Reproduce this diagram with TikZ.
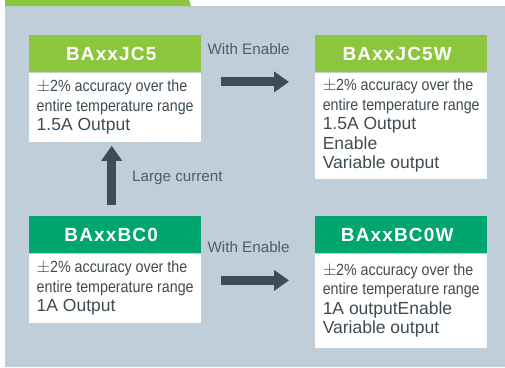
\documentclass[tikz,border=0pt]{standalone}
\usepackage{fontspec}
\setmainfont{Liberation Sans}
\newfontfamily\narrowsans[FakeStretch=0.88]{Liberation Sans}
\newfontfamily\headsans[LetterSpace=6]{Liberation Sans}
\usetikzlibrary{positioning,arrows.meta}

\definecolor{leafgreen}{HTML}{8CC63F}
\definecolor{deepgreen}{HTML}{00A570}
\definecolor{panelgrey}{HTML}{BFCED8}
\definecolor{arrowgrey}{HTML}{3D4C55}
\definecolor{textgrey}{HTML}{3F4B53}
\definecolor{labelgrey}{HTML}{4F5D66}

\begin{document}
\begin{tikzpicture}[x=1pt, y=-1pt,
    headbox/.style={fill=#1, minimum width=172pt, minimum height=37pt, inner sep=0pt,
        text=white, font=\headsans\bfseries\fontsize{19}{20}\selectfont},
    bodybox/.style={fill=white, minimum width=172pt, inner sep=0pt, align=left,
        text=textgrey, font=\fontsize{17.5}{19.5}\selectfont},
    bigarrow/.style={draw=arrowgrey, line width=9pt, -{Triangle[length=15pt,width=20pt]}},
    steplabel/.style={anchor=west, text=labelgrey, inner sep=0pt,
        font=\fontsize{15.2}{17}\selectfont}]
    \newcommand{\smallbody}{\narrowsans\fontsize{16.2}{19.5}\selectfont}
    \newcommand{\bigbody}{\normalfont\fontsize{17.5}{19.5}\selectfont}
    \newcommand{\headtext}[1]{#1\hspace*{8pt}}
    \newcommand{\acclines}{{\smallbody $\pm$2\% accuracy over the}\\{\smallbody entire temperature range}}

    \useasboundingbox (0,0) rectangle (505,367);
    % Background panel and tab
    \fill[panelgrey] (5,6) rectangle (505,367);
    \fill[leafgreen] (5,0) -- (189,0) -- (191,6) -- (5,6) -- cycle;

    % Upper row
    \node[headbox=leafgreen, anchor=north west] (jc5-head) at (29,35) {\headtext{BAxxJC5}};
    \node[bodybox, minimum height=69pt, below=0pt of jc5-head] (jc5-body)
        {\acclines\\{\bigbody 1.5A Output}};
    \node[headbox=leafgreen, anchor=north west] (jc5w-head) at (315,35) {\headtext{BAxxJC5W}};
    \node[bodybox, minimum height=106pt, below=0pt of jc5w-head] (jc5w-body)
        {\acclines\\{\bigbody 1.5A Output}\\{\bigbody Enable}\\{\bigbody Variable output}};

    % Lower row
    \node[headbox=deepgreen, anchor=north west] (bc0-head) at (29,216) {\headtext{BAxxBC0}};
    \node[bodybox, minimum height=69pt, below=0pt of bc0-head] (bc0-body)
        {\acclines\\{\bigbody 1A Output}};
    \node[headbox=deepgreen, anchor=north west] (bc0w-head) at (315,216) {\headtext{BAxxBC0W}};
    \node[bodybox, minimum height=94pt, below=0pt of bc0w-head] (bc0w-body)
        {\acclines\\{\bigbody 1A outputEnable}\\{\bigbody Variable output}};

    % Labels
    \node[steplabel] (enable-top) at ([xshift=6pt, yshift=-14pt]jc5-head.north east) {With Enable};
    \node[steplabel] (enable-bottom) at ([xshift=6pt, yshift=-31pt]bc0-head.north east) {With Enable};
    \node[steplabel] (large-current) at (132,178) {Large current};

    % Arrows
    \draw[bigarrow, shorten <=20pt, shorten >=26pt]
        ([yshift=-9.5pt]jc5-head.south east) -- ([yshift=-9.5pt]jc5w-head.south west);
    \draw[bigarrow, shorten <=20pt, shorten >=26pt]
        ([yshift=-27pt]bc0-head.south east) -- ([yshift=-27pt]bc0w-head.south west);
    \draw[bigarrow, shorten <=11pt, shorten >=4pt]
        ([xshift=-3.5pt]bc0-head.north) -- ([xshift=-3.5pt]jc5-body.south);
\end{tikzpicture}
\end{document}
